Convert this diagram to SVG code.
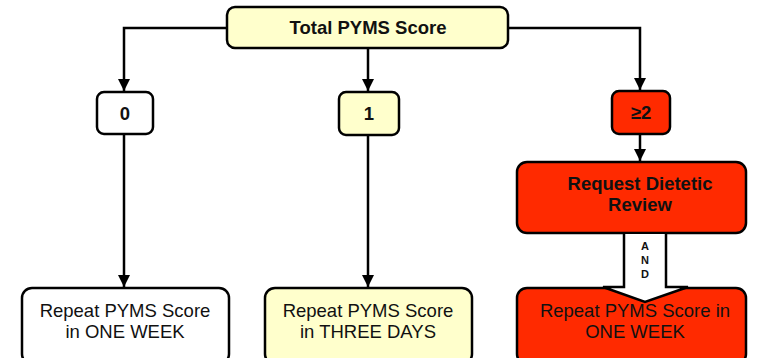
<svg xmlns="http://www.w3.org/2000/svg" width="760" height="358" viewBox="0 0 760 358">
<style>
.box{stroke:#000;stroke-width:2.5}
.y{fill:#ffffcc}
.w{fill:#ffffff}
.r{fill:#ff2a00}
.t{font-family:"Liberation Sans",Arial,sans-serif;font-size:18.5px;text-anchor:middle;fill:#111}
.b{font-weight:bold}
.a{font-family:"Liberation Sans",Arial,sans-serif;font-size:11px;font-weight:bold;text-anchor:middle;fill:#111}
.c{fill:none;stroke:#000;stroke-width:2.5}
</style>
<defs>
<marker id="ah" viewBox="0 0 10 10" refX="10" refY="5" markerWidth="5" markerHeight="5" orient="auto" markerUnits="strokeWidth">
<path d="M0,0 L10,5 L0,10 z" fill="#000"/>
</marker>
</defs>
<rect width="760" height="358" fill="#fff"/>
<g id="connectors">
<path class="c" d="M227,28 H124 V91" marker-end="url(#ah)"/>
<path class="c" d="M368,48 V91" marker-end="url(#ah)"/>
<path class="c" d="M508,28 H640 V90" marker-end="url(#ah)"/>
<path class="c" d="M640,134 V161" marker-end="url(#ah)"/>
<path class="c" d="M124,134 V287" marker-end="url(#ah)"/>
<path class="c" d="M368,135 V287" marker-end="url(#ah)"/>
</g>
<g id="total">
<rect class="box y" x="227" y="7" width="281" height="41" rx="8"/>
<text class="t b" x="368" y="34">Total PYMS Score</text>
</g>
<g id="score0">
<rect class="box w" x="97" y="92" width="56" height="42" rx="7"/>
<text class="t b" x="125" y="120">0</text>
</g>
<g id="score1">
<rect class="box y" x="339" y="92" width="60" height="43" rx="7"/>
<text class="t b" x="369" y="120">1</text>
</g>
<g id="score2">
<rect class="box r" x="612" y="91" width="58" height="43" rx="7"/>
<text class="t b" x="641" y="119">≥2</text>
</g>
<g id="dietetic">
<rect class="box r" x="517" y="162" width="229" height="71" rx="10"/>
<text class="t b" x="640" y="190">Request Dietetic</text>
<text class="t b" x="640" y="211">Review</text>
</g>
<g id="repeat0">
<rect class="box w" x="22" y="288" width="207" height="76" rx="10"/>
<text class="t" x="125" y="317">Repeat PYMS Score</text>
<text class="t" x="125" y="338">in ONE WEEK</text>
</g>
<g id="repeat1">
<rect class="box y" x="265" y="288" width="207" height="76" rx="10"/>
<text class="t" x="368" y="317">Repeat PYMS Score</text>
<text class="t" x="368" y="338">in THREE DAYS</text>
</g>
<g id="repeat2">
<rect class="box r" x="517" y="288" width="229" height="76" rx="10"/>
<g id="and-arrow">
<path d="M624,234 V287 H603 L645,302 L688,287 H666 V234" fill="#fff" stroke="#000" stroke-width="2.5" stroke-linejoin="miter"/>
<text class="a" x="645" y="250">A</text>
<text class="a" x="645" y="264">N</text>
<text class="a" x="645" y="278">D</text>
</g>
<text class="t" x="635" y="317">Repeat PYMS Score in</text>
<text class="t" x="635" y="338">ONE WEEK</text>
</g>
</svg>
